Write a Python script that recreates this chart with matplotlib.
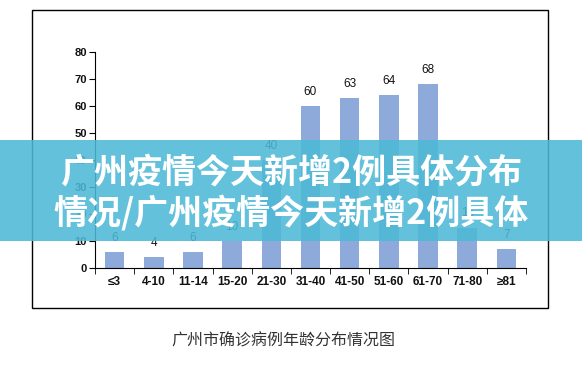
import matplotlib
matplotlib.use("Agg")
import matplotlib.pyplot as plt
from matplotlib.patches import Rectangle

categories = ["≤3", "4-10", "11-14", "15-20", "21-30", "31-40", "41-50", "51-60", "61-70", "71-80", "≥81"]
values = [6, 4, 6, 10, 40, 60, 63, 64, 68, 15, 7]
yticks = [0, 10, 20, 30, 40, 50, 60, 70, 80]
caption = "广州市确诊病例年龄分布情况图"
banner_lines = ["广州疫情今天新增2例具体分布", "情况/广州疫情今天新增2例具体"]

plt.rcParams['font.family'] = ['Liberation Sans', 'Noto Sans CJK SC', 'DejaVu Sans']

W, H = 582, 380
fig = plt.figure(figsize=(W / 100, H / 100), dpi=100)

# outer frame
fig.patches.append(Rectangle((32 / W, 1 - 308 / H), (548 - 32) / W, (308 - 10) / H,
                             transform=fig.transFigure, fill=False, edgecolor='black',
                             linewidth=1.0, zorder=0))

ax = fig.add_axes([95 / W, 1 - 268 / H, (526 - 95) / W, (268 - 52) / H])
x = list(range(len(categories)))
ax.bar(x, values, width=0.5, color='#8eaadb', zorder=2)
for xi, v in zip(x, values):
    ax.text(xi, v + 3, str(v), ha='center', va='bottom', fontsize=8.5, color='#111111')

ax.set_xlim(-0.5, len(categories) - 0.5)
ax.set_ylim(0, 80)
ax.set_yticks(yticks)
ax.set_yticklabels([str(t) for t in yticks], fontsize=8, color='#111111', fontweight='bold')
ax.set_xticks(x)
ax.set_xticklabels(categories, fontsize=8.5, color='#111111', fontweight='bold')
ax.tick_params(axis='x', length=0, pad=6)
ax.set_xticks([i - 0.5 for i in range(len(categories) + 1)], minor=True)
ax.tick_params(axis='x', which='minor', length=4, direction='out')
ax.tick_params(axis='y', length=4, direction='out', pad=2)
for s in ['top', 'right']:
    ax.spines[s].set_visible(False)
ax.spines['left'].set_linewidth(0.8)
ax.spines['bottom'].set_linewidth(0.8)

fig.text(283 / W, 1 - 341 / H, caption, ha='center', va='center', fontsize=11.5,
         color='#333333', family=['Noto Sans CJK SC', 'DejaVu Sans'])

# banner overlay
fig.patches.append(Rectangle((0, 1 - 241 / H), 1, 101 / H, transform=fig.transFigure,
                             facecolor='#4db9d6', alpha=0.88, edgecolor='none', zorder=10))
fig.text(0.5, 1 - 172 / H, banner_lines[0], ha='center', va='center', fontsize=24.5,
         color='white', fontweight='heavy', family=['Noto Sans CJK SC', 'DejaVu Sans'], zorder=11)
fig.text(0.5, 1 - 213 / H, banner_lines[1], ha='center', va='center', fontsize=24.5,
         color='white', fontweight='heavy', family=['Noto Sans CJK SC', 'DejaVu Sans'], zorder=11)

fig.savefig("out.png", dpi=100)
